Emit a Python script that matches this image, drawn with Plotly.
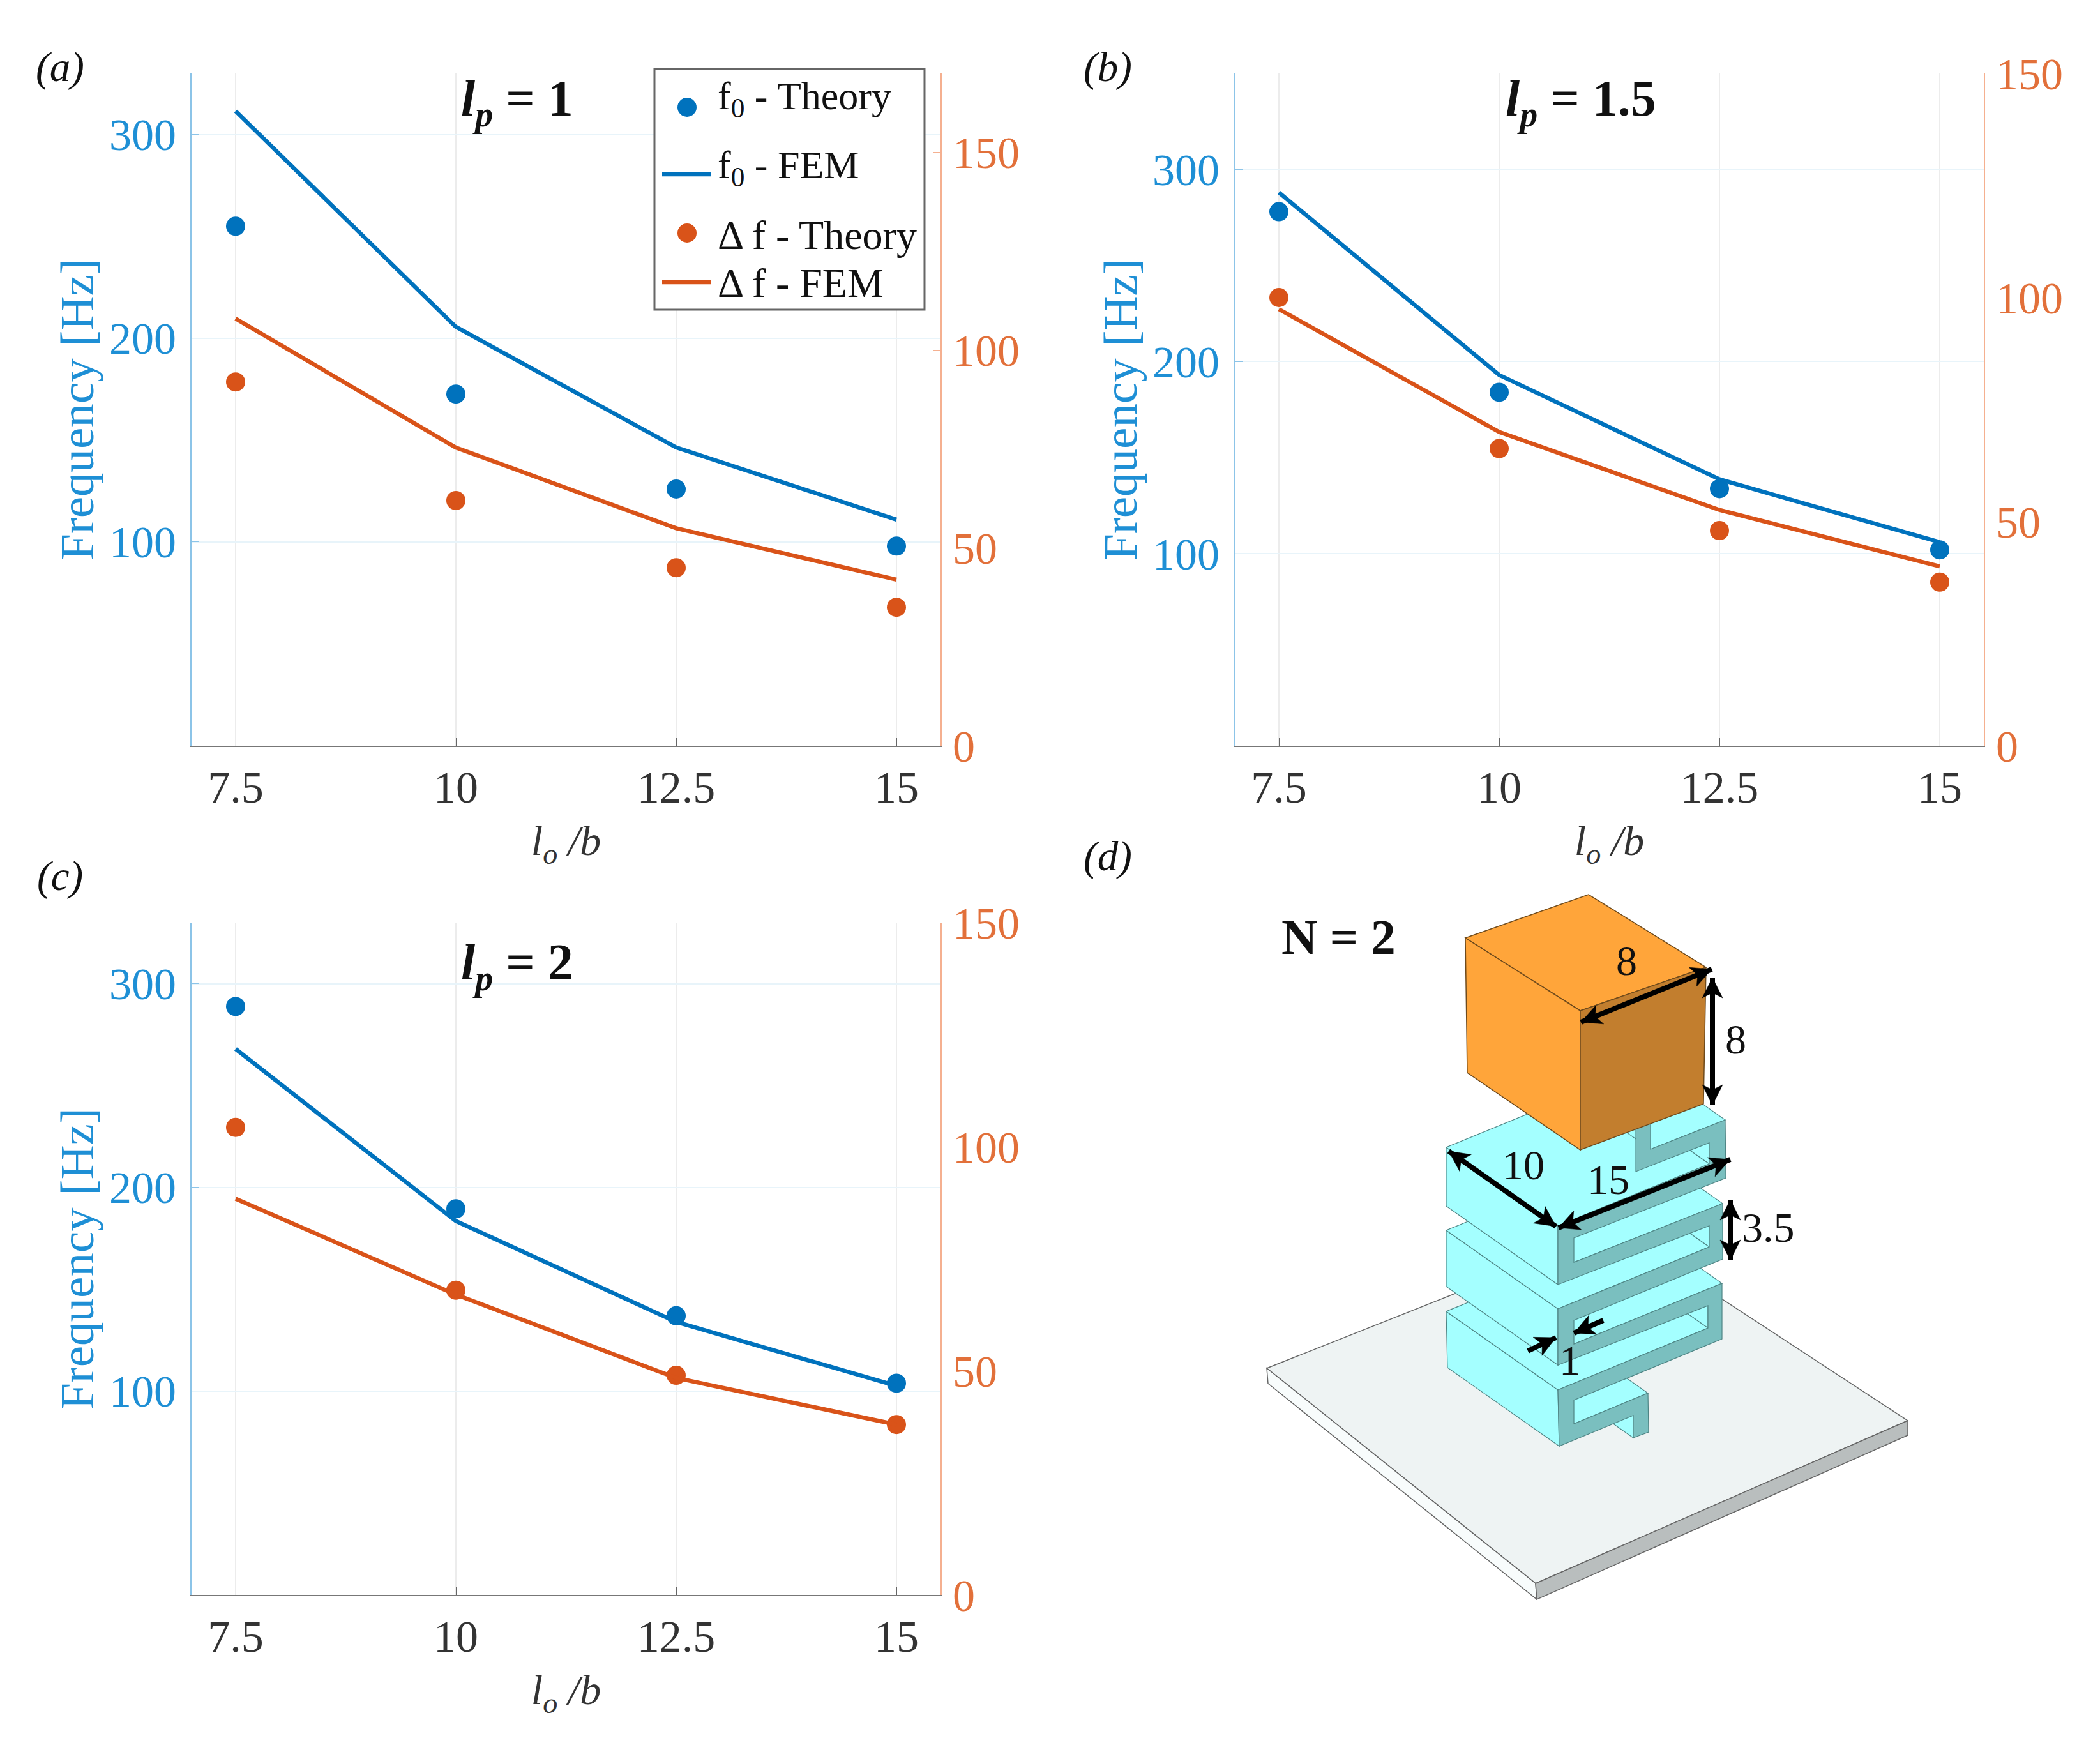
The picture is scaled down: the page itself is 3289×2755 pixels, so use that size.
import math
import plotly.graph_objects as go

W, H = 3289, 2755
PAGE_MARGIN = 8  # browser body margin around the plot div

x_vals = [7.5, 10, 12.5, 15]
x_tick_labels = ["7.5", "10", "12.5", "15"]

# panel (a), lp = 1
a_f0_theory = [255, 172.6, 126, 98]
a_f0_fem = [311.5, 205.6, 146.4, 111]
a_df_theory = [92, 62, 45, 35]
a_df_fem = [108, 75.4, 55, 42]

# panel (b), lp = 1.5
b_f0_theory = [278, 184, 133.8, 102]
b_f0_fem = [288, 193, 138.7, 106]
b_df_theory = [100, 66.3, 48, 36.5]
b_df_fem = [97.4, 70, 52.6, 40]

# panel (c), lp = 2
c_f0_theory = [288.8, 189.5, 137, 103.9]
c_f0_fem = [268, 183.5, 134, 102.6]
c_df_theory = [104.3, 68, 49, 38]
c_df_fem = [88.4, 67, 48.4, 38]

left_ticks = [100, 200, 300]
right_ticks = [0, 50, 100, 150]

BLUE = "#0072BD"
ORANGE = "#D95319"
BLUE_TXT = "#1E8FD5"
ORANGE_TXT = "#E2703A"
FONT = "Liberation Serif"

# panel layout in page pixels
panels = [
    dict(x=(300, 1473), y=(115, 1168), ltop=330, rtop=170, data=(a_f0_theory, a_f0_fem, a_df_theory, a_df_fem)),
    dict(x=(1934, 3107), y=(115, 1168), ltop=350, rtop=150, data=(b_f0_theory, b_f0_fem, b_df_theory, b_df_fem)),
    dict(x=(300, 1473), y=(1445, 2498), ltop=330, rtop=150, data=(c_f0_theory, c_f0_fem, c_df_theory, c_df_fem)),
]

FIG_W = W - 2 * PAGE_MARGIN
FIG_H = H - 2 * PAGE_MARGIN


def pap(x, y):
    return (x - PAGE_MARGIN) / FIG_W, 1 - (y - PAGE_MARGIN) / FIG_H


fig = go.Figure()
layout = dict(
    width=FIG_W,
    height=FIG_H,
    margin=dict(l=0, r=0, t=0, b=0, autoexpand=False),
    paper_bgcolor="white",
    plot_bgcolor="white",
    showlegend=False,
    font=dict(family=FONT, size=70, color="#222222"),
)

for i, p in enumerate(panels):
    xname = "xaxis" if i == 0 else f"xaxis{i + 1}"
    xid = "x" if i == 0 else f"x{i + 1}"
    n_left = 2 * i + 1
    n_right = 2 * i + 2
    lname = "yaxis" if n_left == 1 else f"yaxis{n_left}"
    lid = "y" if n_left == 1 else f"y{n_left}"
    rname = f"yaxis{n_right}"
    rid = f"y{n_right}"
    y_dom = [pap(0, p["y"][1])[1], pap(0, p["y"][0])[1]]

    layout[xname] = dict(
        domain=[pap(p["x"][0], 0)[0], pap(p["x"][1], 0)[0]],
        range=[7, 15.5],
        anchor=lid,
        tickmode="array",
        tickvals=x_vals,
        ticktext=x_tick_labels,
        ticks="inside",
        ticklen=12,
        tickcolor="#666666",
        tickfont=dict(size=70, color="#333333"),
        ticklabelstandoff=3,
        showline=True,
        linecolor="#777777",
        linewidth=2,
        showgrid=True,
        gridcolor="#ECECEC",
        gridwidth=2,
        zeroline=False,
        title=dict(text="<i>l<sub>o</sub> /b</i>", font=dict(size=66, color="#333333"), standoff=22),
    )
    layout[lname] = dict(
        domain=y_dom,
        range=[0, p["ltop"]],
        anchor=xid,
        tickmode="array",
        tickvals=left_ticks,
        ticks="inside",
        ticklen=12,
        tickcolor="#8CC4E8",
        tickfont=dict(size=70, color=BLUE_TXT),
        ticklabelstandoff=8,
        showline=True,
        linecolor="#8CC4E8",
        linewidth=2,
        showgrid=True,
        gridcolor="#E8F4FA",
        gridwidth=2,
        zeroline=False,
        title=dict(text="Frequency [Hz]", font=dict(size=75, color=BLUE_TXT), standoff=0),
    )
    layout[rname] = dict(
        domain=y_dom,
        range=[0, p["rtop"]],
        anchor=xid,
        overlaying=lid,
        side="right",
        tickmode="array",
        tickvals=right_ticks,
        ticks="inside",
        ticklen=12,
        tickcolor="#F5B090",
        tickfont=dict(size=70, color=ORANGE_TXT),
        ticklabelstandoff=3,
        showline=True,
        linecolor="#F5B090",
        linewidth=2,
        showgrid=False,
        zeroline=False,
    )

    f0_th, f0_fem, df_th, df_fem = p["data"]
    fig.add_trace(go.Scatter(x=x_vals, y=f0_th, mode="markers", name="f0 - Theory",
                             marker=dict(color=BLUE, size=30), xaxis=xid, yaxis=lid))
    fig.add_trace(go.Scatter(x=x_vals, y=f0_fem, mode="lines", name="f0 - FEM",
                             line=dict(color=BLUE, width=6.5), xaxis=xid, yaxis=lid))
    fig.add_trace(go.Scatter(x=x_vals, y=df_th, mode="markers", name="Δ f - Theory",
                             marker=dict(color=ORANGE, size=30), xaxis=xid, yaxis=rid))
    fig.add_trace(go.Scatter(x=x_vals, y=df_fem, mode="lines", name="Δ f - FEM",
                             line=dict(color=ORANGE, width=6.5), xaxis=xid, yaxis=rid))

# legend of panel (a), built by hand so the big markers and uneven rows fit
legend_box = (1025, 108, 1448, 485)
legend_rows = [
    ("f<sub>0</sub> - Theory", BLUE, "marker", 168, 155, 62),
    ("f<sub>0</sub> - FEM", BLUE, "line", 273, 263, 62),
    ("Δ f - Theory", ORANGE, "marker", 365, 368, 64),
    ("Δ f - FEM", ORANGE, "line", 442, 443, 64),
]

# drawing for panel (d), page pixels
plate_top = [(1984, 2143), (2531, 1926), (2988, 2225), (2405, 2480)]
plate_left = [(1984, 2143), (2405, 2480), (2407, 2505), (1986, 2167)]
plate_right = [(2405, 2480), (2988, 2225), (2988, 2248), (2407, 2505)]

depth = (-175, -123)
# back to front: edges of the front outline that are swept along depth
spring_edges = [
    ((2558, 2217), (2558, 2252)),
    ((2465, 2230), (2581, 2182)),
    ((2440, 2177), (2442, 2265)),
    ((2675, 2045), (2675, 2080)),
    ((2440, 2177), (2675, 2080)),
    ((2465, 2105), (2697, 2010)),
    ((2440, 2050), (2440, 2138)),
    ((2677, 1920), (2677, 1953)),
    ((2440, 2050), (2677, 1953)),
    ((2465, 1977), (2698, 1885)),
    ((2440, 1920), (2440, 2012)),
    ((2677, 1790), (2677, 1823)),
    ((2440, 1920), (2677, 1823)),
    ((2585, 1800), (2702, 1754)),
]
spring_front = [
    (2702, 1754), (2703, 1845), (2465, 1939), (2465, 1977), (2698, 1885), (2698, 1972),
    (2465, 2068), (2465, 2105), (2697, 2010), (2697, 2097), (2465, 2193), (2465, 2230),
    (2581, 2182), (2582, 2243), (2558, 2252), (2558, 2217), (2442, 2265), (2440, 2177),
    (2675, 2080), (2675, 2045), (2440, 2138), (2440, 2050), (2677, 1953), (2677, 1920),
    (2440, 2012), (2440, 1920), (2677, 1823), (2677, 1790), (2562, 1835), (2562, 1760),
    (2585, 1760), (2585, 1800),
]
box_top = [(2295, 1469), (2488, 1401), (2672, 1515), (2475, 1583)]
box_left = [(2295, 1469), (2475, 1583), (2475, 1801), (2298, 1680)]
box_right = [(2475, 1583), (2672, 1515), (2668, 1729), (2475, 1801)]

# tip, tail, two headed
dim_arrows = [
    ((2681, 1518), (2476, 1601), True),
    ((2682, 1531), (2682, 1731), True),
    ((2269, 1803), (2437, 1921), True),
    ((2710, 1816), (2441, 1923), True),
    ((2710, 1879), (2710, 1974), True),
    ((2437, 2095), (2393, 2116), False),
    ((2465, 2088), (2511, 2068), False),
]
dim_labels = [("8", 2547, 1504), ("8", 2718, 1627), ("10", 2386, 1824), ("15", 2519, 1847),
              ("3.5", 2769, 1922), ("1", 2458, 2130)]

panel_labels = [("(a)", 94, 105), ("(b)", 1735, 105), ("(c)", 94, 1372), ("(d)", 1735, 1341)]
panel_titles = [("1", 810, 160), ("1.5", 2476, 160), ("2", 810, 1513)]


def poly(points, fill, edge, lw=1.5):
    path = "M " + " L ".join("%.5f,%.5f" % pap(*pt) for pt in points) + " Z"
    return dict(type="path", path=path, xref="paper", yref="paper", fillcolor=fill,
                line=dict(color=edge, width=lw))


def seg(a, b, color, lw):
    xa, ya = pap(*a)
    xb, yb = pap(*b)
    return dict(type="line", x0=xa, y0=ya, x1=xb, y1=yb, xref="paper", yref="paper",
                line=dict(color=color, width=lw))


def head(tip, tail, length=32, half=16):
    # stealth style arrow head pointing at tip
    d = math.hypot(tip[0] - tail[0], tip[1] - tail[1])
    ux, uy = (tip[0] - tail[0]) / d, (tip[1] - tail[1]) / d
    bx, by = tip[0] - ux * length, tip[1] - uy * length
    nx, ny = tip[0] - ux * length * 0.75, tip[1] - uy * length * 0.75
    return poly([tip, (bx - uy * half, by + ux * half), (nx, ny), (bx + uy * half, by - ux * half)],
                "black", "black", 0.5)


shapes = [
    poly(plate_top, "#EEF3F3", "#666666"),
    poly(plate_left, "#F8FCFC", "#666666"),
    poly(plate_right, "#B9BEBE", "#666666"),
]
for a, b in spring_edges:
    quad = [a, b, (b[0] + depth[0], b[1] + depth[1]), (a[0] + depth[0], a[1] + depth[1])]
    shapes.append(poly(quad, "#A4FFFF", "#4F8585", 1.2))
shapes.append(poly(spring_front, "#7ABFBF", "#4F8585", 1.2))
shapes.append(poly(box_top, "#FFA53A", "#6E4A1C"))
shapes.append(poly(box_left, "#FFA53A", "#6E4A1C"))
shapes.append(poly(box_right, "#C27E2E", "#6E4A1C"))
for tip, tail, both in dim_arrows:
    shapes.append(seg(tip, tail, "black", 8))
    shapes.append(head(tip, tail))
    if both:
        shapes.append(head(tail, tip))

lx0, ly0, lx1, ly1 = legend_box
shapes.append(poly([(lx0, ly0), (lx1, ly0), (lx1, ly1), (lx0, ly1)], "white", "#666666", 3))

annotations = []


def add_text(text, x, y, size=62, anchor="center"):
    xp, yp = pap(x, y)
    annotations.append(dict(text=text, x=xp, y=yp, xref="paper", yref="paper", showarrow=False,
                            xanchor=anchor, yanchor="middle", font=dict(size=size, color="#111111")))


for label, color, kind, sym_y, text_y, size in legend_rows:
    if kind == "marker":
        x0, y0 = pap(1061, sym_y - 15)
        x1, y1 = pap(1091, sym_y + 15)
        shapes.append(dict(type="circle", x0=x0, y0=y0, x1=x1, y1=y1, xref="paper", yref="paper",
                           fillcolor=color, line=dict(color=color, width=0)))
    else:
        shapes.append(seg((1037, sym_y), (1113, sym_y), color, 6.5))
    add_text(label, 1122, text_y, size, "left")

layout["shapes"] = shapes

for text, x, y in panel_labels:
    add_text(f"<i>{text}</i>", x, y, 65)
for val, x, y in panel_titles:
    add_text(f"<b><i>l<sub>p</sub></i> = {val}</b>", x, y, 80)
add_text("<b>N = 2</b>", 2096, 1467, 78)
for text, x, y in dim_labels:
    add_text(text, x, y, 66)
layout["annotations"] = annotations

fig.update_layout(**layout)
fig.write_html("out.html")
